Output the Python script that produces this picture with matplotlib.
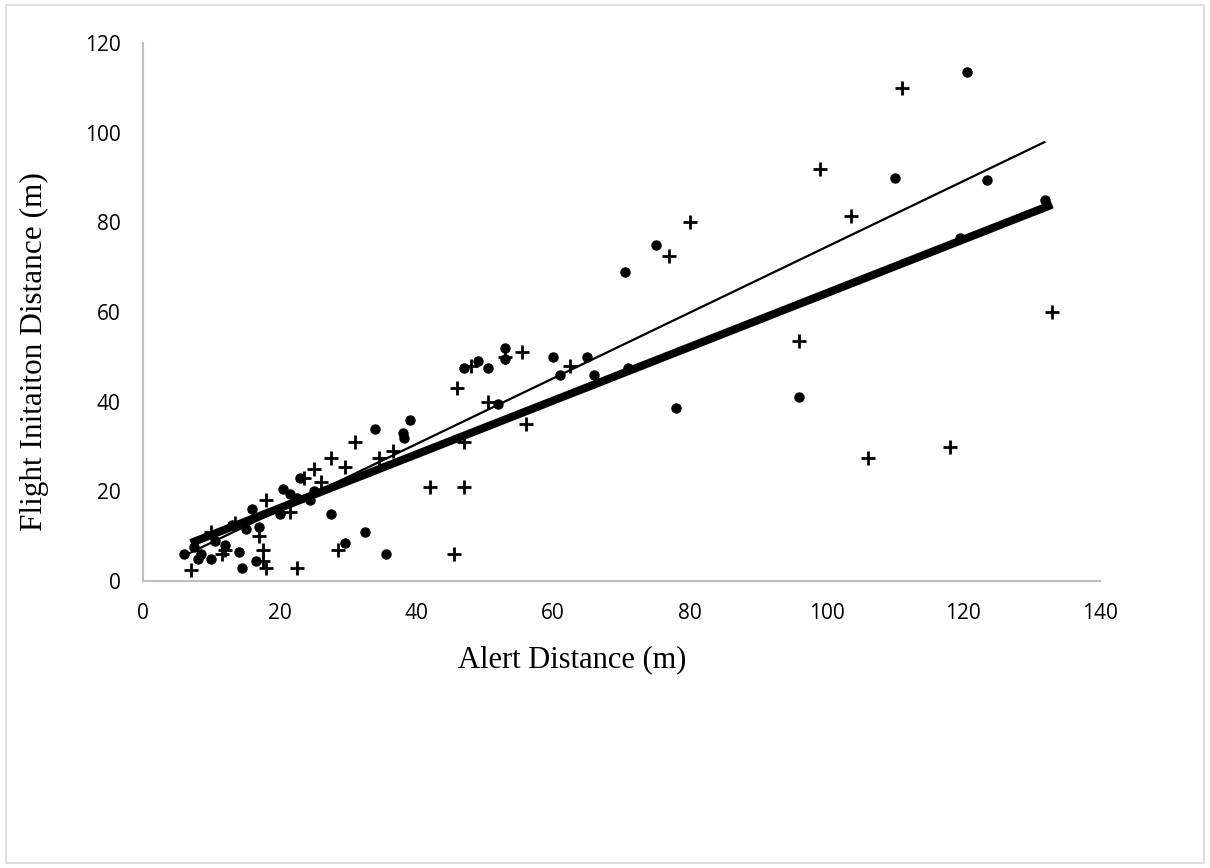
#!/usr/bin/env python3

import matplotlib
matplotlib.use('Agg')
import matplotlib.pyplot as plt
import numpy as np


# Data. Two groups: dots and crosses.
dots_x = [6, 7.5, 8, 8.5, 10, 10.5, 12, 13, 14, 14.5, 15, 16, 16.5, 17,
          20, 20.5, 21.5, 22.5, 23, 24.5, 25, 27.5, 29.5, 32.5, 34, 35.5,
          38, 38.2, 39, 47, 49, 50.5, 52, 53, 53, 60, 61, 65, 66, 71, 70.5,
          75, 78, 96, 110, 119.5, 120.5, 123.5, 132]
dots_y = [6, 7.5, 5, 6, 5, 9, 8, 12.5, 6.5, 3, 11.5, 16, 4.5, 12,
          15, 20.5, 19.5, 18.5, 23, 18, 20, 15, 8.5, 11, 34, 6,
          33, 32, 36, 47.5, 49, 47.5, 39.5, 52, 49.5, 50, 46, 50, 46, 47.5, 69,
          75, 38.5, 41, 90, 76.5, 113.5, 89.5, 85]

cross_x = [7, 10, 11.5, 12, 13.5, 17, 17.5, 17.5, 18, 18, 21.5, 22.5, 23.5,
           25, 26, 27.5, 28.5, 29.5, 31, 34.5, 36.5, 42, 45.5, 46, 47, 47,
           48, 50.5, 53, 55.5, 56, 62.5, 77, 80, 96, 99, 103.5, 106, 111,
           118, 133]
cross_y = [2.5, 11, 6, 7, 13, 10, 7, 4.5, 3, 18, 15.5, 3, 23,
           25, 22, 27.5, 7, 25.5, 31, 27.5, 29, 21, 6, 43, 31, 21,
           48, 40, 50, 51, 35, 48, 72.5, 80, 53.5, 92, 81.5, 27.5, 110,
           30, 60]

# Linear trend lines (slope, intercept) as shown in the reference.
trend_dots = (0.733, 1.24)
trend_cross = (0.599, 4.30)

x_ticks = [0, 20, 40, 60, 80, 100, 120, 140]
y_ticks = [0, 20, 40, 60, 80, 100, 120]


fig = plt.figure(figsize=(12.1, 8.68), dpi=100)
ax = fig.add_axes((0.1182, 0.3306, 0.7909, 0.6198))

# Light grey frame round the whole chart area.
fig.add_artist(plt.Rectangle((0.005, 0.006), 0.99, 0.988,
                             transform=fig.transFigure, fill=False,
                             edgecolor='#d9d9d9', linewidth=1.2))

ax.plot(dots_x, dots_y, 'o', color='black', markersize=6.5, zorder=2)
ax.plot(cross_x, cross_y, '+', color='black', markersize=10,
        markeredgewidth=2, zorder=2)

for (xs, (m, b), lw) in ((dots_x, trend_dots, 1.6),
                         (cross_x, trend_cross, 5.8)):
    xx = np.array([min(xs), max(xs)])
    ax.plot(xx, m * xx + b, color='black', linewidth=lw,
            solid_capstyle='butt', zorder=3)

ax.set_xlim(0, 140)
ax.set_ylim(0, 120)
ax.set_xticks(x_ticks)
ax.set_yticks(y_ticks)

for side in ('top', 'right'):
    ax.spines[side].set_visible(False)
for side in ('left', 'bottom'):
    ax.spines[side].set_color('#bfbfbf')
    ax.spines[side].set_linewidth(1.5)

ax.tick_params(length=0, labelsize=15, colors='black')
ax.tick_params(axis='x', pad=16)
ax.tick_params(axis='y', pad=16)
for lab in ax.get_xticklabels() + ax.get_yticklabels():
    lab.set_fontfamily('Open Sans')

# Axis titles sit a little off centre in the reference.
ax.set_xlabel('Alert Distance (m)', fontsize=22, family='Liberation Serif',
              labelpad=15, x=0.448)
ax.set_ylabel('Flight Initaiton Distance (m)', fontsize=22.5,
              family='Liberation Serif', labelpad=26, y=0.426)

fig.savefig('out.png', dpi=100)
